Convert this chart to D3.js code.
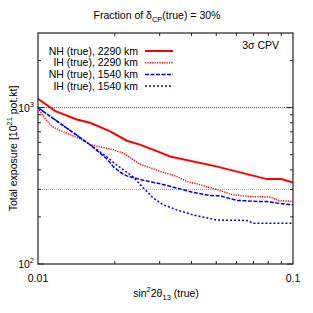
<!DOCTYPE html>
<html>
<head>
<meta charset="utf-8">
<script src="https://cdn.jsdelivr.net/npm/d3@7"></script>
<style>
  body { margin: 0; background: #fff; }
  svg { font-family: "Liberation Sans", Arial, sans-serif; }
</style>
</head>
<body>
<svg id="chart" width="313" height="313"></svg>
<script>
//  data: [sin^2 2theta13, exposure]
const nh_2290 = [[0.01, 1140], [0.0117, 950], [0.0142, 840], [0.016, 800], [0.0192, 705], [0.0223, 614],
  [0.0251, 580], [0.0301, 517], [0.0329, 487], [0.05, 421], [0.079, 349], [0.09, 349], [0.1, 332]];
const ih_2290 = [[0.01, 995], [0.0105, 880], [0.0113, 760], [0.0122, 715], [0.0146, 633], [0.016, 580],
  [0.0192, 545], [0.0216, 512], [0.0251, 435], [0.0301, 392], [0.035, 363], [0.0383, 337], [0.0419, 326],
  [0.05, 300], [0.058, 277], [0.068, 270], [0.0812, 268], [0.088, 255], [0.1, 251]];
const nh_1540 = [[0.01, 1000], [0.016, 579], [0.0186, 471], [0.0197, 421], [0.021, 386], [0.0223, 366],
  [0.0259, 343], [0.0301, 326], [0.035, 306], [0.0406, 287], [0.0473, 274], [0.0517, 273], [0.0602, 255],
  [0.0742, 251], [0.0788, 251], [0.0916, 242], [0.1, 239]];
const ih_1540 = [[0.01, 1000], [0.016, 579], [0.0186, 485], [0.0203, 431], [0.0216, 401], [0.0236, 361],
  [0.0259, 306], [0.0283, 264], [0.031, 239], [0.035, 222], [0.0406, 206], [0.0502, 191], [0.0658, 190],
  [0.07, 182], [0.1, 182]];

const series = [
  {name: "NH (true), 2290 km", color: "#ff0000", width: 2, dash: null, data: nh_2290},
  {name: "IH (true), 2290 km", color: "#ff0000", width: 1.5, dash: "1.2,1.2", data: ih_2290},
  {name: "NH (true), 1540 km", color: "#0000ff", width: 1.5, dash: "4,1.5", data: nh_1540},
  {name: "IH (true), 1540 km", color: "#0000ff", width: 1.5, dash: "2,2", data: ih_1540}
];

const x_major = [0.01, 0.1];
const x_minor = [0.02, 0.03, 0.04, 0.05, 0.06, 0.07, 0.08, 0.09];
const y_major = [100, 1000];
const y_minor = [200, 300, 400, 500, 600, 700, 800, 900, 2000];
const ref_lines = [{v: 1000, color: "#555"}, {v: 300, color: "#999"}];

const margin = ({top: 33, right: 20, bottom: 49, left: 38});
const w = 313, h = 313;
const svg = d3.select("#chart");

const x = d3.scaleLog().domain([0.01, 0.1]).range([margin.left, w - margin.right]);
const y = d3.scaleLog().domain([100, 3000]).range([h - margin.bottom, margin.top]);

//  reference lines
ref_lines.forEach(r => {
  svg.append("line")
    .attr("x1", x(0.01)).attr("x2", x(0.1))
    .attr("y1", y(r.v)).attr("y2", y(r.v))
    .attr("stroke", r.color).attr("stroke-width", 1)
    .attr("stroke-dasharray", "1,1");
});

//  curves
const line = d3.line().x(d => x(d[0])).y(d => y(d[1]));
series.forEach(s => {
  svg.append("path")
    .datum(s.data)
    .attr("d", line)
    .attr("fill", "none")
    .attr("stroke", s.color)
    .attr("stroke-width", s.width)
    .attr("stroke-dasharray", s.dash);
});

//  axes (ticks inward, mirrored)
const x0 = x.range()[0], x1 = x.range()[1], y0 = y.range()[0], y1 = y.range()[1];
const tick = (vals, len, axis) => {
  vals.forEach(v => {
    if (axis == "x") {
      svg.append("line").attr("x1", x(v)).attr("x2", x(v)).attr("y1", y0).attr("y2", y0 - len).attr("stroke", "#222");
      svg.append("line").attr("x1", x(v)).attr("x2", x(v)).attr("y1", y1).attr("y2", y1 + len).attr("stroke", "#222");
    } else {
      svg.append("line").attr("y1", y(v)).attr("y2", y(v)).attr("x1", x0).attr("x2", x0 + len).attr("stroke", "#222");
      svg.append("line").attr("y1", y(v)).attr("y2", y(v)).attr("x1", x1).attr("x2", x1 - len).attr("stroke", "#222");
    }
  });
};
tick(x_minor, 3, "x");
tick(y_minor, 3, "y");
tick(y_major, 6, "y");

svg.append("rect")
  .attr("x", x0).attr("y", y1)
  .attr("width", x1 - x0).attr("height", y0 - y1)
  .attr("fill", "none").attr("stroke", "#222").attr("stroke-width", 1.2);

//  tick labels
x_major.forEach(v => {
  svg.append("text").attr("x", x(v)).attr("y", y0 + 18)
    .attr("text-anchor", "middle").attr("font-size", 10.5).text(v == 0.01 ? "0.01" : "0.1");
});
y_major.forEach(v => {
  const t = svg.append("text").attr("x", x0 - 4).attr("y", y(v) + 4)
    .attr("text-anchor", "end").attr("font-size", 10.5);
  t.append("tspan").text("10");
  t.append("tspan").attr("dy", -5).attr("font-size", 7.5).text(Math.round(Math.log10(v)));
});

//  title
const title = svg.append("text").attr("x", 157).attr("y", 19).attr("text-anchor", "middle").attr("font-size", 10.5);
title.append("tspan").text("Fraction of δ");
title.append("tspan").attr("dy", 3).attr("font-size", 7.5).text("CP");
title.append("tspan").attr("dy", -3).text("(true) = 30%");

//  x label
const xl = svg.append("text").attr("x", 166).attr("y", 297).attr("text-anchor", "middle").attr("font-size", 10.5);
xl.append("tspan").text("sin");
xl.append("tspan").attr("dy", -5).attr("font-size", 7.5).text("2");
xl.append("tspan").attr("dy", 5).text("2θ");
xl.append("tspan").attr("dy", 3).attr("font-size", 7.5).text("13");
xl.append("tspan").attr("dy", -3).text(" (true)");

//  y label
const yl = svg.append("text").attr("transform", "translate(17," + ((y0 + y1) / 2) + ") rotate(-90)")
  .attr("text-anchor", "middle").attr("font-size", 10.5);
yl.append("tspan").text("Total exposure [10");
yl.append("tspan").attr("dy", -5).attr("font-size", 7.5).text("21");
yl.append("tspan").attr("dy", 5).text(" pot.kt]");

//  legend
series.forEach((s, i) => {
  const ly = 51 + i * 11.7;
  svg.append("text").attr("x", 138).attr("y", ly + 3.5)
    .attr("text-anchor", "end").attr("font-size", 10.5).text(s.name);
  svg.append("line").attr("x1", 145).attr("x2", 173).attr("y1", ly).attr("y2", ly)
    .attr("stroke", s.color).attr("stroke-width", s.width).attr("stroke-dasharray", s.dash);
});

svg.append("text").attr("x", 279).attr("y", 49).attr("text-anchor", "end").attr("font-size", 10.5).text("3σ CPV");
</script>
</body>
</html>
